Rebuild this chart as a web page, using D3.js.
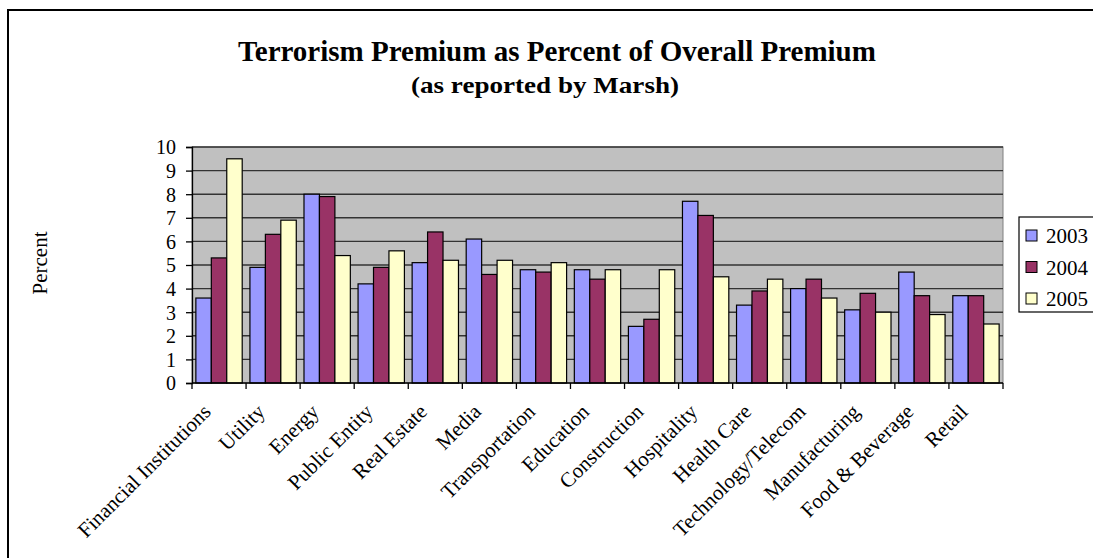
<!DOCTYPE html>
<html>
<head>
<meta charset="utf-8">
<script src="https://cdn.jsdelivr.net/npm/d3@7"></script>
<style>
  body { margin: 0; background: #fff; }
  svg text { font-family: "Liberation Serif", "Times New Roman", serif; fill: #000; }
</style>
</head>
<body>
<svg id="chart" width="1093" height="558"></svg>
<script>
var categories = ["Financial Institutions", "Utility", "Energy", "Public Entity", "Real Estate",
  "Media", "Transportation", "Education", "Construction", "Hospitality", "Health Care",
  "Technology/Telecom", "Manufacturing", "Food & Beverage", "Retail"];
var years = ["2003", "2004", "2005"];
var values2003 = [3.6, 4.9, 8.0, 4.2, 5.1, 6.1, 4.8, 4.8, 2.4, 7.7, 3.3, 4.0, 3.1, 4.7, 3.7];
var values2004 = [5.3, 6.3, 7.9, 4.9, 6.4, 4.6, 4.7, 4.4, 2.7, 7.1, 3.9, 4.4, 3.8, 3.7, 3.7];
var values2005 = [9.5, 6.9, 5.4, 5.6, 5.2, 5.2, 5.1, 4.8, 4.8, 4.5, 4.4, 3.6, 3.0, 2.9, 2.5];
var yTicks = [0, 1, 2, 3, 4, 5, 6, 7, 8, 9, 10];
var colors = ["#9999FF", "#993366", "#FFFFCC"];

var series = [values2003, values2004, values2005];
var rows = categories.map(function(c, i) {
  return { cat: c, vals: series.map(function(s) { return s[i]; }) };
});

var svg = d3.select("#chart");

// outer chart border
svg.append("rect")
  .attr("x", 8).attr("y", 10)
  .attr("width", 1100).attr("height", 560)
  .attr("fill", "none").attr("stroke", "#000").attr("stroke-width", 2);

var plotL = 192, plotR = 1003, plotT = 147, plotB = 383;

var x = d3.scaleBand().domain(categories).range([plotL, plotR]).paddingInner(0).paddingOuter(0);
var x1 = d3.scaleBand().domain(years).range([0, x.bandwidth()]).paddingInner(0).paddingOuter(0.25);
var y = d3.scaleLinear().domain([0, 10]).range([plotB, plotT]);

// plot area
svg.append("rect")
  .attr("x", plotL).attr("y", plotT)
  .attr("width", plotR - plotL).attr("height", plotB - plotT)
  .attr("fill", "#C0C0C0").attr("stroke", "#808080").attr("stroke-width", 1);

// gridlines
svg.append("g").selectAll("line").data(yTicks.filter(function(t) { return t > 0; }))
  .enter().append("line")
  .attr("x1", plotL).attr("x2", plotR)
  .attr("y1", function(d) { return y(d); })
  .attr("y2", function(d) { return y(d); })
  .attr("stroke", "#333").attr("stroke-width", 1.4);

// bars
var groups = svg.append("g").selectAll("g").data(rows).enter().append("g")
  .attr("transform", function(d) { return "translate(" + x(d.cat) + ",0)"; });

groups.selectAll("rect").data(function(d) { return d.vals; })
  .enter().append("rect")
  .attr("x", function(v, i) { return x1(years[i]); })
  .attr("width", x1.bandwidth())
  .attr("y", function(v) { return y(v); })
  .attr("height", function(v) { return plotB - y(v); })
  .attr("fill", function(v, i) { return colors[i]; })
  .attr("stroke", "#000").attr("stroke-width", 1.2);

// y axis
var yAxis = svg.append("g")
  .attr("transform", "translate(" + plotL + ",0)")
  .call(d3.axisLeft(y).tickValues(yTicks).tickSize(6).tickPadding(10).tickFormat(d3.format("d")));
yAxis.select(".domain").attr("stroke", "#000").attr("stroke-width", 1.3);
yAxis.selectAll(".tick line").attr("stroke", "#000").attr("stroke-width", 1.3);
yAxis.selectAll("text").style("font-size", "20px").attr("dy", "0.34em");

// x axis with ticks between categories
var xAxisG = svg.append("g");
xAxisG.append("line")
  .attr("x1", plotL).attr("x2", plotR).attr("y1", plotB).attr("y2", plotB)
  .attr("stroke", "#000").attr("stroke-width", 1.3);
var boundaries = categories.map(function(c) { return x(c); }).concat([plotR]);
xAxisG.selectAll("line.tk").data(boundaries).enter().append("line")
  .attr("class", "tk")
  .attr("x1", function(d) { return d; }).attr("x2", function(d) { return d; })
  .attr("y1", plotB).attr("y2", plotB + 6)
  .attr("stroke", "#000").attr("stroke-width", 1.3);

xAxisG.selectAll("text").data(categories).enter().append("text")
  .attr("transform", function(d) {
    return "translate(" + (x(d) + x.bandwidth() / 2 - 7) + "," + (plotB + 30) + ") rotate(-45)";
  })
  .attr("text-anchor", "end")
  .style("font-size", "21px")
  .text(function(d) { return d; });

// y axis title
svg.append("text")
  .attr("transform", "translate(47,263) rotate(-90)")
  .attr("text-anchor", "middle")
  .style("font-size", "21px")
  .text("Percent");

// titles
svg.append("text")
  .attr("x", 557).attr("y", 61)
  .attr("text-anchor", "middle")
  .style("font-size", "29px").style("font-weight", "bold")
  .text("Terrorism Premium as Percent of Overall Premium");
svg.append("text")
  .attr("x", 545).attr("y", 93)
  .attr("text-anchor", "middle")
  .attr("textLength", 268).attr("lengthAdjust", "spacingAndGlyphs")
  .style("font-size", "24px").style("font-weight", "bold")
  .text("(as reported by Marsh)");

// legend
var legend = svg.append("g");
legend.append("rect")
  .attr("x", 1019).attr("y", 217).attr("width", 90).attr("height", 95)
  .attr("fill", "#fff").attr("stroke", "#000").attr("stroke-width", 1.2);
var li = legend.selectAll("g.li").data(years).enter().append("g")
  .attr("class", "li")
  .attr("transform", function(d, i) { return "translate(1026," + (236 + i * 31.5) + ")"; });
li.append("rect")
  .attr("x", 0).attr("y", -6).attr("width", 11).attr("height", 11)
  .attr("fill", function(d, i) { return colors[i]; })
  .attr("stroke", "#000").attr("stroke-width", 1);
li.append("text")
  .attr("x", 20).attr("y", 0).attr("dy", "0.35em")
  .style("font-size", "21px")
  .text(function(d) { return d; });
</script>
</body>
</html>
